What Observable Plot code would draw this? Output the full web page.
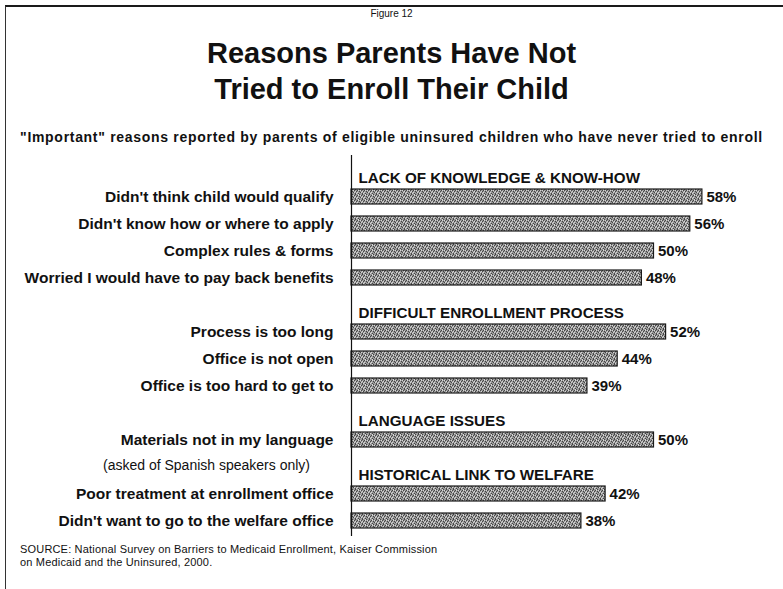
<!DOCTYPE html>
<html>
<head>
<meta charset="utf-8">
<script src="https://cdn.jsdelivr.net/npm/d3@7"></script>
<script src="https://cdn.jsdelivr.net/npm/@observablehq/plot@0.6"></script>
<style>
  html, body { margin: 0; padding: 0; background: #fff; }
  #wrap { position: relative; width: 783px; height: 589px; overflow: hidden; font-family: "Liberation Sans", Arial, sans-serif; color: #111; }
  #chart { position: absolute; left: 0; top: 0; }
  .abs { position: absolute; white-space: nowrap; }
  #border { position: absolute; left: 5px; top: 5px; width: 800px; height: 600px; border-top: 2px solid #1a1a1a; border-left: 1.5px solid #333; }
  #fig { left: 0; width: 783px; text-align: center; top: 9px; font-size: 10px; line-height: 10px; font-family: "Liberation Sans Narrow", "Liberation Sans", sans-serif; }
  #title { left: 0; width: 783px; text-align: center; top: 35px; font-size: 29px; line-height: 36px; font-weight: bold; }
  #subtitle { left: 0; width: 783px; text-align: center; top: 130px; font-size: 14px; line-height: 14px; font-weight: bold; letter-spacing: 0.7px; }
  #source { left: 20px; top: 543px; font-size: 11px; line-height: 13px; letter-spacing: 0.18px; }
</style>
</head>
<body>
<div id="wrap">
  <div id="chart"></div>
  <div id="border"></div>
  <div id="fig" class="abs">Figure 12</div>
  <div id="title" class="abs">Reasons Parents Have Not<br>Tried to Enroll Their Child</div>
  <div id="subtitle" class="abs">"Important" reasons reported by parents of eligible uninsured children who have never tried to enroll</div>
  <div id="source" class="abs">SOURCE: National Survey on Barriers to Medicaid Enrollment, Kaiser Commission<br>on Medicaid and the Uninsured, 2000.</div>
</div>
<script>
const categories = [
  "Didn't think child would qualify",
  "Didn't know how or where to apply",
  "Complex rules & forms",
  "Worried I would have to pay back benefits",
  "Process is too long",
  "Office is not open",
  "Office is too hard to get to",
  "Materials not in my language",
  "Poor treatment at enrollment office",
  "Didn't want to go to the welfare office"
];
const values = [58, 56, 50, 48, 52, 44, 39, 50, 42, 38];
const groupNames = [
  "LACK OF KNOWLEDGE & KNOW-HOW",
  "DIFFICULT ENROLLMENT PROCESS",
  "LANGUAGE ISSUES",
  "HISTORICAL LINK TO WELFARE"
];
const groupOf = [0, 0, 0, 0, 1, 1, 1, 2, 3, 3];
const noteText = "(asked of Spanish speakers only)";
const noteFor = "Materials not in my language";

const data = categories.map((c, i) => ({label: c, value: values[i], group: groupNames[groupOf[i]]}));
const rows = [];
categories.forEach((c, i) => {
  if (i > 0 && groupOf[i] !== groupOf[i - 1]) rows.push("gap-" + groupOf[i]);
  rows.push(c);
});
const headers = data.filter((d, i) => i === 0 || groupOf[i] !== groupOf[i - 1]);

const chart = Plot.plot({
  width: 783,
  height: 589,
  marginLeft: 351,
  marginRight: 69,
  marginTop: 155,
  marginBottom: 53,
  style: {background: "transparent", fontFamily: "Liberation Sans, Arial, sans-serif", color: "#111"},
  x: {domain: [0, 60], axis: null},
  y: {domain: rows, range: [183.5, 534.5], paddingInner: 0.44, paddingOuter: 0.22, axis: null},
  marks: [
    Plot.barX(data, {x: "value", y: "label", fill: "url(#stipple)", stroke: "#1a1a1a", strokeWidth: 1.2}),
    Plot.ruleX([0], {stroke: "#111", strokeWidth: 1.2}),
    Plot.text(data, {x: "value", y: "label", text: d => d.value + "%", dx: 4, textAnchor: "start", fontSize: 15, fontWeight: "bold", fill: "#111"}),
    Plot.text(data, {y: "label", text: "label", frameAnchor: "left", dx: -18, textAnchor: "end", fontSize: 15.5, fontWeight: "bold", fill: "#111"}),
    Plot.text(headers, {y: "label", text: "group", frameAnchor: "left", dx: 7, dy: -19, textAnchor: "start", fontSize: 15.2, fontWeight: "bold", fill: "#111"}),
    Plot.text([noteText], {y: () => noteFor, text: d => d, frameAnchor: "left", dx: -145, dy: 26, textAnchor: "middle", fontSize: 14, fill: "#111", style: "letter-spacing:0.9px"})
  ]
});

// stippled gray texture for bars (decorative fill only)
const svg = d3.select(chart);
const pat = svg.insert("defs", ":first-child")
  .append("pattern")
  .attr("id", "stipple")
  .attr("patternUnits", "userSpaceOnUse")
  .attr("width", 7).attr("height", 5);
pat.append("rect").attr("width", 7).attr("height", 5).attr("fill", "#989898");
const dark = [[0,0],[2,1],[4,0],[1,3],[3,2],[5,3],[6,1],[2,4],[5,4]];
const light = [[1,0],[4,2],[0,2],[3,0],[5,1],[6,3],[1,4]];
dark.forEach(([px, py]) => pat.append("rect").attr("x", px).attr("y", py).attr("width", 1).attr("height", 1).attr("fill", "#454545"));
light.forEach(([px, py]) => pat.append("rect").attr("x", px).attr("y", py).attr("width", 1).attr("height", 1).attr("fill", "#d6d6d6"));

document.getElementById("chart").appendChild(chart);
</script>
</body>
</html>
